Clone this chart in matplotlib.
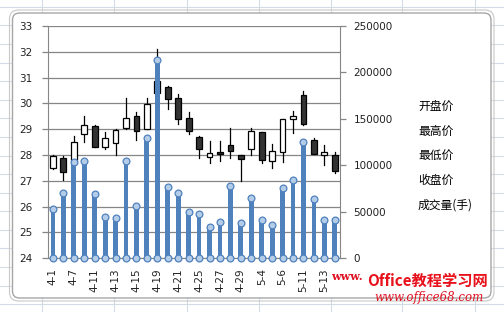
import matplotlib
matplotlib.use("Agg")
import matplotlib.pyplot as plt
from matplotlib.patches import FancyBboxPatch, Rectangle
from matplotlib.lines import Line2D

plt.rcParams['font.family'] = ['DejaVu Sans', 'Noto Sans CJK SC']

# ---------------- data ----------------
dates = ["4-1", "4-6", "4-7", "4-8", "4-11", "4-12", "4-13", "4-14", "4-15", "4-18",
         "4-19", "4-20", "4-21", "4-22", "4-25", "4-26", "4-27", "4-28", "4-29", "5-3",
         "5-4", "5-5", "5-6", "5-10", "5-11", "5-12", "5-13", "5-16"]
open_p = [27.50, 27.90, 27.80, 28.80, 29.13, 28.33, 28.48, 29.04, 29.50, 29.00,
          30.85, 30.62, 30.20, 29.43, 28.70, 27.94, 28.13, 28.40, 28.00, 28.22,
          28.88, 27.77, 28.11, 29.39, 30.33, 28.58, 28.00, 28.00]
high_p = [28.00, 27.95, 28.72, 29.50, 29.15, 28.90, 29.00, 30.22, 29.65, 30.20,
          32.10, 30.68, 30.35, 29.65, 28.72, 28.56, 28.53, 29.05, 28.00, 29.04,
          28.90, 28.42, 29.40, 29.70, 30.50, 28.67, 28.40, 28.13]
low_p = [27.45, 27.05, 27.75, 28.52, 28.30, 28.25, 28.00, 29.02, 28.60, 29.00,
         30.35, 29.80, 29.20, 28.80, 27.88, 27.68, 27.77, 27.90, 27.00, 28.00,
         27.70, 27.50, 27.72, 28.85, 29.17, 28.03, 27.60, 27.30]
close_p = [27.95, 27.35, 28.52, 29.17, 28.33, 28.65, 28.97, 29.43, 28.93, 29.97,
           30.40, 30.17, 29.40, 28.95, 28.22, 28.07, 28.06, 28.15, 27.84, 28.92,
           27.82, 28.15, 29.39, 29.51, 29.20, 28.05, 28.13, 27.38]
volume = [52800, 70600, 103700, 104800, 69200, 44500, 43400, 104800, 56600, 129900,
          213500, 77100, 70000, 50200, 47400, 34000, 39400, 78200, 37700, 65300,
          41200, 36200, 75400, 84200, 125600, 63500, 41600, 40900]
legend_labels = ["开盘价", "最高价", "最低价", "收盘价", "成交量(手)"]
price_ticks = [24, 25, 26, 27, 28, 29, 30, 31, 32, 33]
vol_ticks = [0, 50000, 100000, 150000, 200000, 250000]

W, H = 504, 312
fig = plt.figure(figsize=(W / 100, H / 100), dpi=100)
fig.patch.set_facecolor("white")

# ---------------- spreadsheet background + chart frame ----------------
bg = fig.add_axes([0, 0, 1, 1])
bg.set_xlim(0, W)
bg.set_ylim(H, 0)
bg.axis("off")
for x in [42, 114, 186.5, 258.5, 330.5, 402, 474.5]:
    bg.axvline(x, color="#d4dbe6", lw=0.8, zorder=0)
y = 6.7
while y < H:
    bg.axhline(y, color="#d4dbe6", lw=0.8, zorder=0)
    y += 18.6
frame = FancyBboxPatch((12.5, 13), 478.5, 285, boxstyle="round,pad=0,rounding_size=7",
                       facecolor="white", edgecolor="#a6a6a6", lw=1.0, zorder=1)
bg.add_patch(frame)
outer = FancyBboxPatch((9.5, 10), 484.5, 291, boxstyle="round,pad=0,rounding_size=9",
                       facecolor="none", edgecolor="#c8c8c8", lw=0.8, zorder=1)
bg.add_patch(outer)

# ---------------- main axes ----------------
left, right = 47.7, 340.0
top, bottom = 26.0, 258.3
ax = fig.add_axes([left / W, 1 - bottom / H, (right - left) / W, (bottom - top) / H])
ax.set_facecolor("none")
n = len(dates)
xs = list(range(n))
ax.set_xlim(-0.5, n - 0.5)
ax.set_ylim(24, 33)
ax.set_yticks(price_ticks)
ax.yaxis.grid(True, color="#868686", lw=0.9)
ax.set_axisbelow(True)
for s in ["top", "right"]:
    ax.spines[s].set_visible(False)
ax.spines["left"].set_color("#868686")
ax.spines["bottom"].set_color("#868686")
ax.tick_params(axis="y", direction="out", length=4.3, width=0.9, color="#868686",
               labelsize=7.5, pad=6.5, labelcolor="#222222")
ax.set_xticks(xs[::2])
ax.set_xticklabels(dates[::2], rotation=90, fontsize=7.5, color="#222222")
ax.tick_params(axis="x", length=0, pad=7)

body_w = 0.55
for i in xs:
    o, h, l, c = open_p[i], high_p[i], low_p[i], close_p[i]
    ax.plot([i, i], [l, h], color="black", lw=0.9, zorder=2)
    lo, hi = min(o, c), max(o, c)
    fc = "white" if c >= o else "#333333"
    ax.add_patch(Rectangle((i - body_w / 2, lo), body_w, max(hi - lo, 0.04),
                           facecolor=fc, edgecolor="black", lw=0.9, zorder=3))

# ---------------- volume axis ----------------
ax2 = ax.twinx()
ax2.set_ylim(0, 250000)
ax2.set_yticks(vol_ticks)
for s in ["top", "left", "bottom"]:
    ax2.spines[s].set_visible(False)
ax2.spines["right"].set_color("#868686")
ax2.tick_params(axis="y", direction="out", length=4.3, width=0.9, color="#868686",
                labelsize=7.5, pad=5.5, labelcolor="#222222")
ax2.bar(xs, volume, width=0.46, color="#4f81bd", zorder=3)
ax2.scatter(xs, volume, s=24, facecolor="#b3cce8", edgecolor="#4f81bd", lw=0.9, zorder=4)
ax2.scatter(xs, [0] * n, s=24, facecolor="#b3cce8", edgecolor="#4f81bd", lw=0.9, zorder=4,
            clip_on=False)

# ---------------- legend (text-only, like the Excel chart) ----------------
handles = [Line2D([], [], linestyle="none") for _ in legend_labels]
leg = fig.legend(handles, legend_labels, loc="center left",
                 bbox_to_anchor=(412 / W, 1 - 156 / H), frameon=False,
                 handlelength=0, handletextpad=0, borderpad=0, labelspacing=0.98,
                 prop={"family": ["Noto Sans CJK SC", "DejaVu Sans"], "size": 8.5})

# ---------------- watermark ----------------
fig.text(331 / W, 1 - 276 / H, "www.", color="#e01020", fontsize=8, fontweight="bold",
         family="DejaVu Serif", va="center", ha="left")
fig.text(367 / W, 1 - 281 / H, "Office教程学习网", color="#e8101a", fontsize=11,
         style="italic", fontweight="bold", family=["Noto Sans CJK SC", "DejaVu Sans"],
         va="center", ha="left")
fig.text(374 / W, 1 - 297 / H, "www.office68.com", color="#e01020", fontsize=8.5,
         style="italic", family="DejaVu Serif", va="center", ha="left")

fig.savefig("out.png", dpi=100, facecolor="white")
